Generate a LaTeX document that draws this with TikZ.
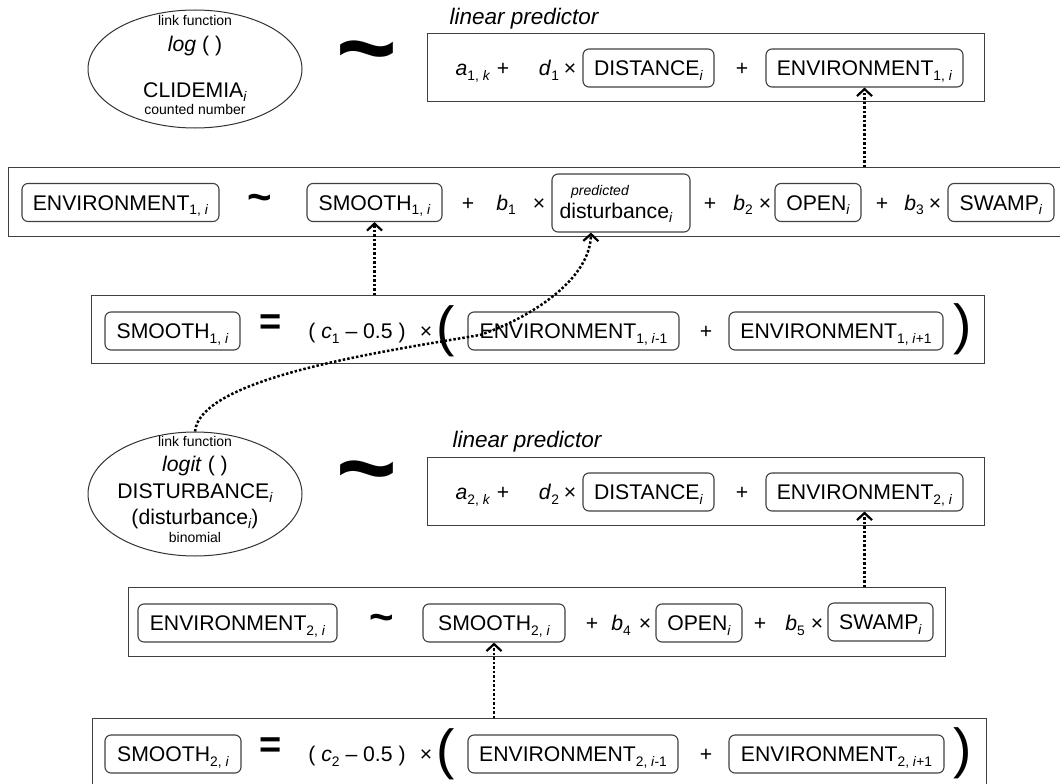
\documentclass[tikz,border=0pt]{standalone}
\usepackage{fontspec}
\setmainfont{Liberation Sans}
\usetikzlibrary{shapes.geometric,arrows.meta}
\newcommand{\sbs}[1]{\raisebox{-4.5pt}{\fontsize{13.8}{14}\selectfont #1}}
\newcommand{\fmain}{\fontsize{21.2}{24}\selectfont}
\newcommand{\fsmall}{\fontsize{14}{16}\selectfont}
\newcommand{\flp}{\fontsize{22.5}{26}\selectfont\itshape}
\tikzset{
  txt/.style={inner sep=0pt, font=\fmain, text height=17.8pt, text depth=2.6pt},
  var/.style={txt, draw=black!75, line width=1.1pt, rounded corners=6pt, minimum height=38pt},
  frame/.style={draw=black!75, line width=1.3pt, inner sep=0pt, anchor=north west},
  ellip/.style={ellipse, draw=black!80, line width=1pt, inner sep=0pt},
  etxt/.style={inner sep=0pt, anchor=base},
  bigtilde/.style={inner sep=0pt, font=\fontsize{104}{104}\selectfont\bfseries},
  smtilde/.style={inner sep=0pt, font=\fontsize{42}{42}\selectfont\bfseries},
  bigsym/.style={inner sep=0pt, font=\fontsize{55}{55}\selectfont},
  eqsym/.style={inner sep=0pt, font=\fontsize{38}{38}\selectfont\bfseries},
  conn/.style={line width=2.5pt, dash pattern=on 2.5pt off 2pt,
    -{Straight Barb[length=7pt,width=15pt,line width=2.2pt]}},
}
\begin{document}
\begin{tikzpicture}[x=1pt,y=-1pt]
\useasboundingbox (0,0) rectangle (1060,784);
\fill[white] (0,0) rectangle (1060,784);
\begin{scope}
\clip (0,0) rectangle (1060,784);
% frames
\node[frame, minimum width=557pt, minimum height=68pt] (r1) at (427,33) {};
\node[frame, minimum width=1062pt, minimum height=69pt] (r2) at (8,167) {};
\node[frame, minimum width=893pt, minimum height=68pt] (r3) at (91,295) {};
\node[frame, minimum width=557pt, minimum height=68pt] (r4) at (427,457) {};
\node[frame, minimum width=817pt, minimum height=69pt] (r5) at (128,587) {};
\node[frame, minimum width=894pt, minimum height=90pt] (r6) at (92,718) {};

% ellipse 1
\node[ellip, minimum width=214pt, minimum height=118pt] (ell1) at (195,69) {};
\node[etxt, font=\fsmall] (e1a) at (195,26) {link function};
\node[etxt, font=\fmain] (e1b) at (195,52) {\textit{log} ( )};
\node[etxt, font=\fmain] (e1c) at (195,97) {CLIDEMIA\sbs{\textit{i}}};
\node[etxt, font=\fsmall] (e1d) at (195,114) {counted number};
\node[bigtilde] (tl1) at (367,62) {\textasciitilde};
\node[etxt, font=\flp] (lp1) at (524,25) {linear predictor};

% row 1
\node[txt] (a1) at (473,68) {\textit{a}\sbs{1, \textit{k}}};
\node[txt] (p1a) at (503,68) {+};
\node[txt] (d1) at (549,68) {\textit{d}\sbs{1}};
\node[txt] (x1a) at (570,68) {×};
\node[var, minimum width=131pt] (dist1) at (648.5,68) {DISTANCE\sbs{\textit{i}}};
\node[txt] (p1b) at (742,68) {+};
\node[var, minimum width=197pt] (env1p) at (864.5,68) {ENVIRONMENT\sbs{1, \textit{i}}};

% row 2
\node[var, minimum width=197pt] (env1) at (120.5,202.5) {ENVIRONMENT\sbs{1, \textit{i}}};
\node[smtilde] (tl2) at (260,203) {\textasciitilde};
\node[var, minimum width=135pt] (smooth1) at (374.5,202.5) {SMOOTH\sbs{1, \textit{i}}};
\node[txt] (p2a) at (468,202.5) {+};
\node[txt] (b1) at (506,202.5) {\textit{b}\sbs{1}};
\node[txt] (x2a) at (539,202.5) {×};
\node[var, minimum width=138pt, minimum height=58pt] (pred) at (621,203) {};
\node[etxt, font=\fsmall\itshape] (predt) at (600,195) {predicted};
\node[etxt, font=\fmain] (distt) at (616,218) {disturbance\sbs{\textit{i}}};
\node[txt] (p2b) at (710,202.5) {+};
\node[txt] (b2) at (743,202.5) {\textit{b}\sbs{2}};
\node[txt] (x2b) at (765,202.5) {×};
\node[var, minimum width=86pt] (open1) at (818,202.5) {OPEN\sbs{\textit{i}}};
\node[txt] (p2c) at (882,202.5) {+};
\node[txt] (b3) at (914,202.5) {\textit{b}\sbs{3}};
\node[txt] (x2c) at (935,202.5) {×};
\node[var, minimum width=106pt] (swamp1) at (1001,202.5) {SWAMP\sbs{\textit{i}}};

% row 3
\node[var, minimum width=135pt] (smooth1r) at (172.5,331) {SMOOTH\sbs{1, \textit{i}}};
\node[eqsym] (eq1) at (271,325) {=};
\node[txt] (c1) at (357,331) {( \textit{c}\sbs{1} – 0.5 )};
\node[txt] (x3) at (426,331) {×};
\node[bigsym] (lp3) at (446,331) {(};
\node[var, minimum width=211pt] (envm1) at (573.5,331) {ENVIRONMENT\sbs{1, \textit{i}-1}};
\node[txt] (p3) at (706,331) {+};
\node[var, minimum width=214pt] (envp1) at (836,331) {ENVIRONMENT\sbs{1, \textit{i}+1}};
\node[bigsym] (rp3) at (963,329) {)};

% ellipse 2
\node[ellip, minimum width=214pt, minimum height=124pt] (ell2) at (195,494) {};
\node[etxt, font=\fsmall] (e2a) at (195,446) {link function};
\node[etxt, font=\fmain] (e2b) at (195,471) {\textit{logit} ( )};
\node[etxt, font=\fmain] (e2c) at (195,498) {DISTURBANCE\sbs{\textit{i}}};
\node[etxt, font=\fmain] (e2d) at (195,524) {(disturbance\sbs{\textit{i}})};
\node[etxt, font=\fsmall] (e2e) at (195,542) {binomial};
\node[bigtilde] (tl4) at (367,482) {\textasciitilde};
\node[etxt, font=\flp] (lp2) at (527,447) {linear predictor};

% row 4
\node[txt] (a2) at (473,492) {\textit{a}\sbs{2, \textit{k}}};
\node[txt] (p4a) at (503,492) {+};
\node[txt] (d2) at (549,492) {\textit{d}\sbs{2}};
\node[txt] (x4a) at (570,492) {×};
\node[var, minimum width=131pt] (dist2) at (648.5,492) {DISTANCE\sbs{\textit{i}}};
\node[txt] (p4b) at (742,492) {+};
\node[var, minimum width=197pt] (env2p) at (864.5,492) {ENVIRONMENT\sbs{2, \textit{i}}};

% row 5
\node[var, minimum width=199pt] (env2) at (237.5,623) {ENVIRONMENT\sbs{2, \textit{i}}};
\node[smtilde] (tl5) at (382,623) {\textasciitilde};
\node[var, minimum width=142pt] (smooth2) at (494,623) {SMOOTH\sbs{2, \textit{i}}};
\node[txt] (p5a) at (592,623) {+};
\node[txt] (b4) at (621,623) {\textit{b}\sbs{4}};
\node[txt] (x5a) at (645,623) {×};
\node[var, minimum width=86pt] (open2) at (699,623) {OPEN\sbs{\textit{i}}};
\node[txt] (p5b) at (760,623) {+};
\node[txt] (b5) at (795,623) {\textit{b}\sbs{5}};
\node[txt] (x5b) at (817,623) {×};
\node[var, minimum width=105pt] (swamp2) at (880.5,622) {SWAMP\sbs{\textit{i}}};

% row 6
\node[var, minimum width=136pt] (smooth2r) at (173,754) {SMOOTH\sbs{2, \textit{i}}};
\node[eqsym] (eq2) at (271,748) {=};
\node[txt] (c2) at (357,754) {( \textit{c}\sbs{2} – 0.5 )};
\node[txt] (x6) at (426,754) {×};
\node[bigsym] (lp6) at (446,754) {(};
\node[var, minimum width=210pt] (envm2) at (573,754) {ENVIRONMENT\sbs{2, \textit{i}-1}};
\node[txt] (p6) at (706,754) {+};
\node[var, minimum width=215pt] (envp2) at (836.5,754) {ENVIRONMENT\sbs{2, \textit{i}+1}};
\node[bigsym] (rp6) at (963,753) {)};

% connectors
\draw[conn] (env1p.south |- r2.north) -- (env1p.south);
\draw[conn] (smooth1.south |- r3.north) -- (smooth1.south);
\coordinate (cmid) at (480,335);
\coordinate (predpt) at ([xshift=-30pt]pred.south);
\draw[conn] (ell2.north) .. controls (200,378) and (380,352) .. (cmid)
   .. controls (530,318) and (590,280) .. (predpt);
\draw[conn] (env2p.south |- r5.north) -- (env2p.south);
\draw[conn] (smooth2.south |- r6.north) -- (smooth2.south);
\end{scope}
\end{tikzpicture}
\end{document}
